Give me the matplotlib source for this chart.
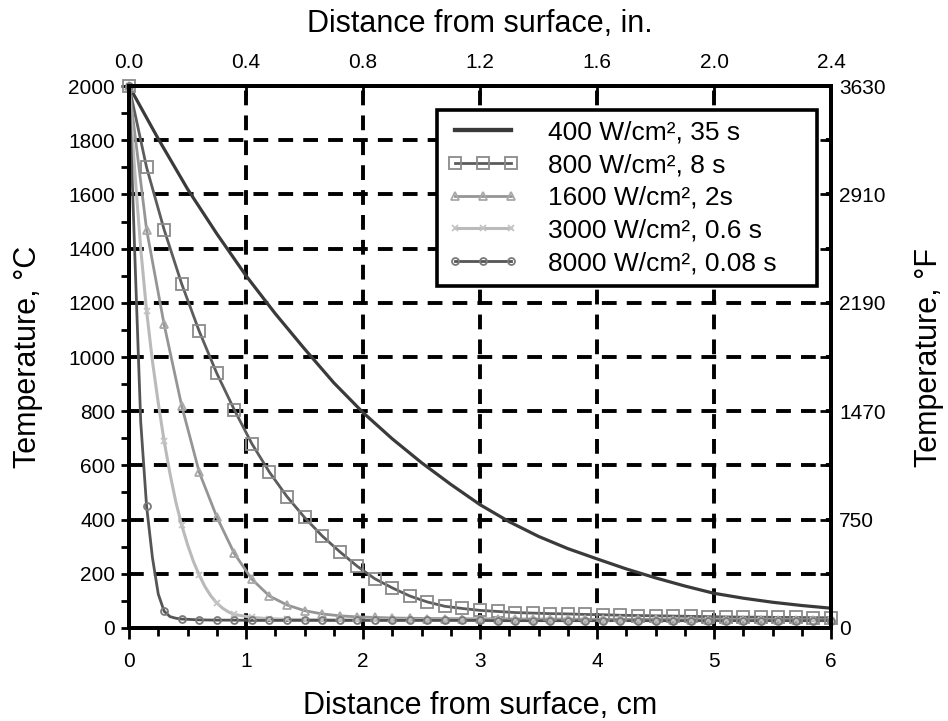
import numpy as np
import matplotlib
matplotlib.use("Agg")
import matplotlib.pyplot as plt
from matplotlib.lines import Line2D

plt.rcParams['font.family'] = ['Liberation Sans', 'DejaVu Sans']

# ---------------- data ----------------
dist_grid_cm = [0.00, 0.15, 0.30, 0.45, 0.60, 0.75, 0.90, 1.05, 1.20, 1.35,
                1.50, 1.65, 1.80, 1.95, 2.10, 2.25, 2.40, 2.55, 2.70, 2.85,
                3.00, 3.15, 3.30, 3.45, 3.60, 3.75, 3.90, 4.05, 4.20, 4.35,
                4.50, 4.65, 4.80, 4.95, 5.10, 5.25, 5.40, 5.55, 5.70, 5.85, 6.00]

x_400 = [0.00, 0.25, 0.50, 0.75, 1.00, 1.25, 1.50, 1.75, 2.00, 2.25, 2.50, 2.75,
         3.00, 3.25, 3.50, 3.75, 4.00, 4.25, 4.50, 4.75, 5.00, 5.25, 5.50, 5.75, 6.00]
t_400 = [2000, 1805, 1620, 1455, 1300, 1160, 1030, 905, 795, 698, 610, 530,
         455, 392, 338, 293, 255, 218, 185, 155, 128, 110, 95, 83, 73]

x_800 = dist_grid_cm
t_800 = [2000, 1700, 1470, 1270, 1095, 940, 805, 680, 575, 485,
         408, 340, 282, 228, 182, 148, 118, 96, 80, 72,
         65, 61, 57, 55, 53, 52, 50, 49, 47, 46,
         45, 44, 43, 42, 41, 40, 40, 39, 39, 38, 38]

x_1600 = dist_grid_cm
t_1600 = [2000, 1470, 1120, 820, 575, 410, 275, 180, 118, 85,
          64, 52, 45, 41, 39, 37, 36, 35, 35, 34,
          34, 34, 33, 33, 33, 33, 32, 32, 32, 32,
          32, 31, 31, 31, 31, 31, 30, 30, 30, 30, 30]

x_3000 = [0.00, 0.05, 0.10, 0.15, 0.20, 0.25, 0.30, 0.35, 0.40, 0.45,
          0.50, 0.55, 0.60, 0.65, 0.70, 0.75, 0.80, 0.85, 0.90] + dist_grid_cm[7:]
t_3000 = [2000, 1680, 1400, 1170, 985, 830, 690, 570, 465, 380,
          308, 246, 195, 152, 118, 92, 73, 59, 50] + \
         [39, 34, 32, 31, 31, 30, 30, 30, 30, 30,
          30, 29, 29, 29, 29, 29, 29, 29, 29, 29,
          28, 28, 28, 28, 28, 28, 28, 28, 28, 28,
          28, 28, 28, 28]

x_8000 = [0.00, 0.05, 0.10, 0.15, 0.20, 0.25, 0.30, 0.35, 0.40, 0.45] + dist_grid_cm[4:]
t_8000 = [2000, 1370, 760, 450, 260, 125, 62, 42, 36, 33] + \
         [30, 29, 29, 28, 28, 28, 28, 28, 28, 28,
          28, 28, 28, 28, 28, 28, 28, 27, 27, 27,
          27, 27, 27, 27, 27, 27, 27, 27, 27, 27,
          27, 27, 27, 27, 27, 27, 27]

series_labels = ["400 W/cm\u00b2, 35 s", "800 W/cm\u00b2, 8 s", "1600 W/cm\u00b2, 2s",
                 "3000 W/cm\u00b2, 0.6 s", "8000 W/cm\u00b2, 0.08 s"]

x_ticks_cm = [0, 1, 2, 3, 4, 5, 6]
top_tick_labels = ["0.0", "0.4", "0.8", "1.2", "1.6", "2.0", "2.4"]
y_ticks_c = [0, 200, 400, 600, 800, 1000, 1200, 1400, 1600, 1800, 2000]
right_ticks_c = [0, 400, 800, 1200, 1600, 2000]
right_tick_labels = ["0", "750", "1470", "2190", "2910", "3630"]

# ---------------- styles ----------------
styles = [
    dict(color='#3a3a3a', lw=2.3, marker=None, mec=None, ms=0),
    dict(color='#5c5c5c', lw=2.0, marker='s', mec='#8a8a8a', ms=8),
    dict(color='#959595', lw=2.0, marker='^', mec='#a8a8a8', ms=6),
    dict(color='#bababa', lw=2.2, marker='x', mec='#c4c4c4', ms=5),
    dict(color='#555555', lw=2.0, marker='o', mec='#7a7a7a', ms=5),
]
data = [(x_400, t_400), (x_800, t_800), (x_1600, t_1600), (x_3000, t_3000), (x_8000, t_8000)]

fig = plt.figure(figsize=(9.48, 7.21), dpi=100)
ax = fig.add_axes([0.1361, 0.129, 0.7405, 0.7517])
ax.set_xlim(0, 6)
ax.set_ylim(0, 2000)

ax.set_axisbelow(True)
ax.grid(True, which='major', color='black', linestyle=(0, (3.8, 2.6)), linewidth=2.8)

handles = []
for (xs, ts), st, lab in zip(data, styles, series_labels):
    xs = np.asarray(xs, dtype=float)
    ts = np.asarray(ts, dtype=float)
    ax.plot(xs, ts, color=st['color'], lw=st['lw'], zorder=3, clip_on=False)
    if st['marker'] is not None:
        on = np.isclose(xs / 0.15, np.round(xs / 0.15))
        ax.plot(xs[on], ts[on], linestyle='none', marker=st['marker'], mfc='none',
                mec=st['mec'], ms=st['ms'], mew=1.3, zorder=4, clip_on=False)
        handles.append(Line2D([], [], color=st['color'], lw=st['lw'], marker=st['marker'],
                              mfc='none', mec=st['mec'], ms=st['ms'], mew=1.3, label=lab))
    else:
        handles.append(Line2D([], [], color=st['color'], lw=st['lw'] + 0.8, label=lab))

ax.set_xticks(x_ticks_cm)
ax.set_xticks(np.arange(0, 6.01, 0.25), minor=True)
ax.set_yticks(y_ticks_c)
ax.set_yticks(np.arange(0, 2001, 100), minor=True)
ax.tick_params(which='both', direction='out', width=2, length=6, labelsize=15, colors='black')
ax.tick_params(axis='x', which='major', length=8, pad=9)
ax.tick_params(axis='y', which='major', pad=4)
ax.set_xlabel("Distance from surface, cm", fontsize=22, labelpad=15)
ax.set_ylabel("Temperature, \u00b0C", fontsize=22, labelpad=18)

axr = ax.twinx()
axr.set_ylim(0, 2000)
axr.set_yticks(right_ticks_c)
axr.set_yticklabels(right_tick_labels)
axr.set_yticks([200, 600, 1000, 1400, 1800], minor=True)
axr.tick_params(which='both', direction='in', length=8, width=2, labelsize=15, pad=6)
axr.set_ylabel("Temperature, \u00b0F", fontsize=22, labelpad=20)

axt = ax.twiny()
axt.set_xlim(0, 6)
axt.set_xticks(x_ticks_cm)
axt.set_xticklabels(top_tick_labels)
axt.tick_params(which='both', direction='in', length=7, width=2, labelsize=15, pad=10)
axt.set_xlabel("Distance from surface, in.", fontsize=22, labelpad=15)

for a in (ax, axr, axt):
    for sp in a.spines.values():
        sp.set_linewidth(2.6)
        sp.set_color('black')

x0 = 0.4387
w = 0.5413
ytop = 0.9560
h = 0.33
leg = axt.legend(handles=handles, loc='upper left', bbox_to_anchor=(x0, ytop - h, w, h),
                 mode='expand', borderaxespad=0, fontsize=19, numpoints=3,
                 handlelength=2.7, handletextpad=1.1, labelspacing=0.33,
                 borderpad=0.40, fancybox=False, framealpha=1, edgecolor='black')
leg.get_frame().set_linewidth(2.6)

fig.savefig("out.png", dpi=100, facecolor='white')
